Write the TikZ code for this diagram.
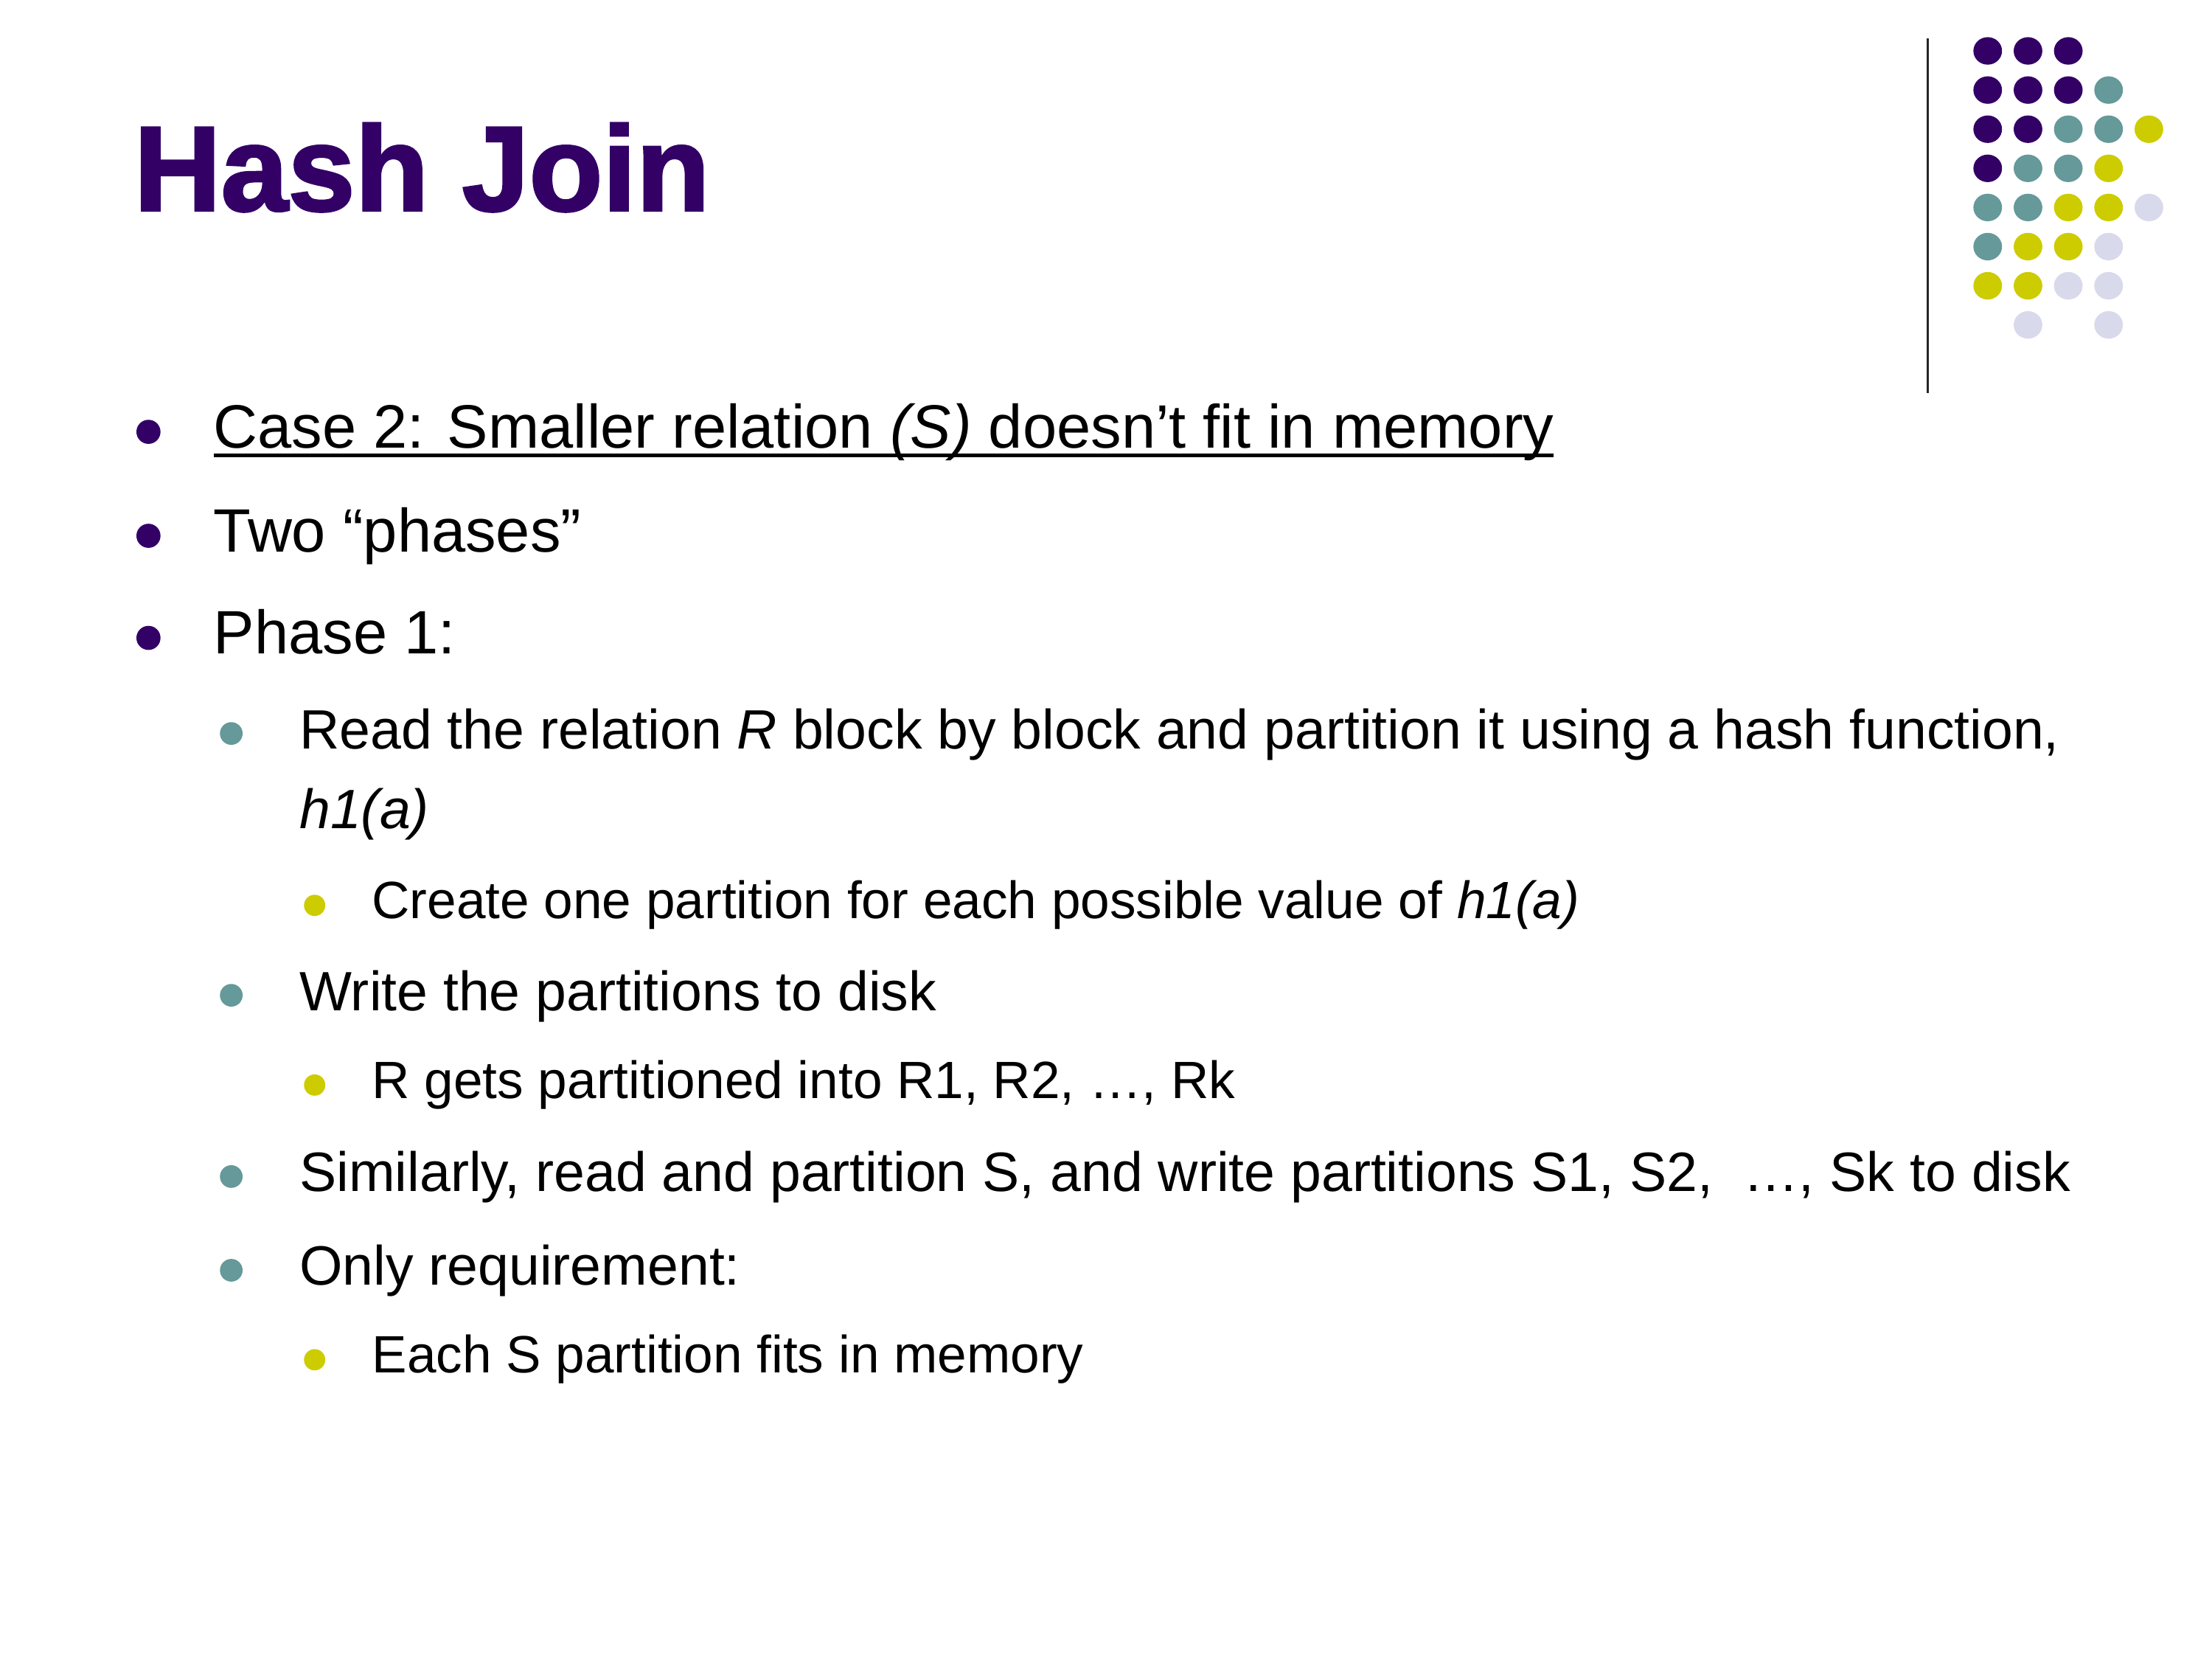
\documentclass[tikz,border=0pt]{standalone}
\usepackage{fontspec}
\setmainfont{Liberation Sans}
\newfontfamily\titlefont{Liberation Sans Bold}[FakeBold=2]
\definecolor{hjpurple}{HTML}{330066}
\definecolor{hjteal}{HTML}{669999}
\definecolor{hjyellow}{HTML}{CCCC00}
\definecolor{hjlav}{HTML}{D9D9EC}
\tikzset{
  txt/.style={anchor=base west, inner sep=0pt, outer sep=0pt, text=black},
  lone/.style={txt, font=\fontsize{43.2}{52}\selectfont},
  ltwo/.style={txt, font=\fontsize{39.1}{47}\selectfont},
  lthree/.style={txt, font=\fontsize{37}{44}\selectfont},
  bone/.style={circle, fill=hjpurple, inner sep=0pt, outer sep=0pt, minimum size=17pt},
  btwo/.style={circle, fill=hjteal, inner sep=0pt, outer sep=0pt, minimum size=16pt},
  bthree/.style={circle, fill=hjyellow, inner sep=0pt, outer sep=0pt, minimum size=15pt},
  titlestyle/.style={anchor=base west, inner sep=0pt, outer sep=0pt, text=hjpurple,
    font=\titlefont\fontsize{85}{100}\selectfont},
  ulinestyle/.style={line width=2.9pt, draw=black},
  vlinestyle/.style={line width=1.4pt, draw=black!85}
}
\begin{document}
\begin{tikzpicture}[x=1pt,y=1pt]
\useasboundingbox (0,0) rectangle (1560,-1170);
\fill[white] (0,0) rectangle (1560,-1170);

% title
\node[titlestyle] (title) at (94.5,-148.5) {Hash Join};

% decorative line and dots
\coordinate (vtop) at (1359.4,-27);
\coordinate (vbot) at (1359.4,-277.2);
\draw[vlinestyle] (vtop) -- (vbot);
\foreach \c/\r/\col in {
  0/0/hjpurple, 1/0/hjpurple, 2/0/hjpurple,
  0/1/hjpurple, 1/1/hjpurple, 2/1/hjpurple, 3/1/hjteal,
  0/2/hjpurple, 1/2/hjpurple, 2/2/hjteal, 3/2/hjteal, 4/2/hjyellow,
  0/3/hjpurple, 1/3/hjteal, 2/3/hjteal, 3/3/hjyellow,
  0/4/hjteal, 1/4/hjteal, 2/4/hjyellow, 3/4/hjyellow, 4/4/hjlav,
  0/5/hjteal, 1/5/hjyellow, 2/5/hjyellow, 3/5/hjlav,
  0/6/hjyellow, 1/6/hjyellow, 2/6/hjlav, 3/6/hjlav,
  1/7/hjlav, 3/7/hjlav}
  \fill[\col] ({1401.8+28.42*\c},{-35.9-27.6*\r}) ellipse [x radius=10.1, y radius=9.7];

% level 1
\node[bone] (b1) at (104.7,-304.5) {};
\node[lone] (t1) at (150.7,-315.8) {Case 2: Smaller relation \textit{(S)} doesn’t fit in memory};
\draw[ulinestyle] ([yshift=-5.2pt]t1.base west) -- ([yshift=-5.2pt]t1.base east);

\node[bone] (b2) at (104.7,-377.8) {};
\node[lone] (t2) at (150.7,-389.1) {Two “phases”};

\node[bone] (b3) at (104.7,-449.8) {};
\node[lone] (t3) at (150.7,-461.1) {Phase 1:};

% level 2 / 3
\node[btwo] (b4) at (163.1,-517.2) {};
\node[ltwo] (t4) at (211.3,-527.8) {Read the relation \textit{R} block by block and partition it using a hash function,};
\node[ltwo] (t4b) at (211.3,-584.1) {\textit{h1(a)}};

\node[bthree] (b5) at (221.9,-638.4) {};
\node[lthree] (t5) at (262.4,-647.8) {Create one partition for each possible value of \textit{h1(a)}};

\node[btwo] (b6) at (163.1,-701.8) {};
\node[ltwo] (t6) at (211.3,-712.4) {Write the partitions to disk};

\node[bthree] (b7) at (221.9,-765.1) {};
\node[lthree] (t7) at (262.4,-774.5) {R gets partitioned into R1, R2, …, Rk};

\node[btwo] (b8) at (163.1,-829.6) {};
\node[ltwo] (t8) at (211.3,-840.2) {Similarly, read and partition S, and write partitions S1, S2,\ \ …, Sk to disk};

\node[btwo] (b9) at (163.1,-895.7) {};
\node[ltwo] (t9) at (211.3,-906.3) {Only requirement:};

\node[bthree] (b10) at (221.9,-958.8) {};
\node[lthree] (t10) at (262.4,-968.2) {Each S partition fits in memory};
\end{tikzpicture}
\end{document}
